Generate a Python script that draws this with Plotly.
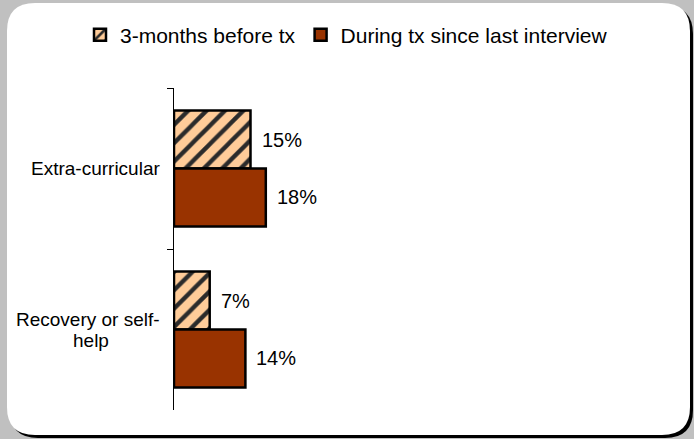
import plotly.graph_objects as go

# --- data -------------------------------------------------------------
categories = ["Extra-curricular", "Recovery or self-help"]
category_lines = [["Extra-curricular"], ["Recovery or self-", "help"]]
before_tx = [15, 7]
during_tx = [18, 14]
series_names = ["3-months before tx", "During tx since last interview"]

# --- figure geometry (pixels) ----------------------------------------
W, H = 694, 439
L, R, T, B = 174, 10, 88, 29
PW, PH = W - L - R, H - T - B
FONT = "Liberation Sans, Arial, sans-serif"


def px_x(px):
    return (px - L) / PW


def px_y(py):
    return 1 - (py - T) / PH


def rounded_rect(x0, y0, x1, y1, r):
    """SVG path (paper coords) of a rounded rectangle given in pixels."""
    pts = [
        ("M", [(x0 + r, y0)]),
        ("L", [(x1 - r, y0)]),
        ("Q", [(x1, y0), (x1, y0 + r)]),
        ("L", [(x1, y1 - r)]),
        ("Q", [(x1, y1), (x1 - r, y1)]),
        ("L", [(x0 + r, y1)]),
        ("Q", [(x0, y1), (x0, y1 - r)]),
        ("L", [(x0, y0 + r)]),
        ("Q", [(x0, y0), (x0 + r, y0)]),
    ]
    out = []
    for cmd, coords in pts:
        out.append(cmd + " ".join(f"{px_x(a):.5f},{px_y(b):.5f}" for a, b in coords))
    return " ".join(out) + " Z"


fig = go.Figure()

fig.add_trace(go.Bar(
    name=series_names[0],
    y=categories,
    x=before_tx,
    orientation="h",
    marker=dict(
        color="#FFCC99",
        line=dict(color="black", width=2.5),
        pattern=dict(shape="/", bgcolor="#FFCC99", fgcolor="#2b2b2b",
                     fgopacity=1, size=13, solidity=0.33, fillmode="replace"),
    ),
    hoverinfo="skip",
))
fig.add_trace(go.Bar(
    name=series_names[1],
    y=categories,
    x=during_tx,
    orientation="h",
    marker=dict(color="#993300", line=dict(color="black", width=2.5)),
    hoverinfo="skip",
))

annotations = []
# value labels next to each bar
bar_half = PH / len(categories) * 0.72 / 4
for series, shift in ((before_tx, bar_half), (during_tx, -bar_half)):
    for cat, v in zip(categories, series):
        annotations.append(dict(
            x=v, y=cat, xref="x", yref="y", text=f"{v}%",
            showarrow=False, xanchor="left", yanchor="middle",
            xshift=9, yshift=shift,
            font=dict(family=FONT, size=20, color="black"),
        ))

# category labels, multi-line ones centred on each other
for cat, lines in zip(categories, category_lines):
    n = len(lines)
    for i, line in enumerate(lines):
        yshift = (n - 1) * 10.5 - i * 21
        if i == 0:
            annotations.append(dict(
                x=0, y=cat, xref="x", yref="y", text=line, showarrow=False,
                xanchor="right", yanchor="middle", xshift=-12, yshift=yshift,
                font=dict(family=FONT, size=19, color="black"),
            ))
        else:
            annotations.append(dict(
                x=0, y=cat, xref="x", yref="y", text=line, showarrow=False,
                xanchor="center", yanchor="middle", xshift=-83, yshift=yshift,
                font=dict(family=FONT, size=19, color="black"),
            ))

shapes = [
    # drop shadow of the panel
    dict(type="path", xref="paper", yref="paper", layer="below",
         path=rounded_rect(10, 6, 693, 438, 28),
         fillcolor="black", line=dict(width=0)),
    # white panel
    dict(type="path", xref="paper", yref="paper", layer="below",
         path=rounded_rect(7, 3, 690, 435, 28),
         fillcolor="white", line=dict(width=0)),
]

fig.update_layout(
    width=W, height=H,
    margin=dict(l=L, r=R, t=T, b=B, pad=0),
    paper_bgcolor="#c0c0c0",
    plot_bgcolor="rgba(0,0,0,0)",
    barmode="group",
    bargap=0.28,
    bargroupgap=0,
    font=dict(family=FONT, color="black"),
    showlegend=True,
    legend=dict(
        orientation="h", xref="paper", yref="paper",
        x=px_x(80), y=px_y(35), xanchor="left", yanchor="middle",
        font=dict(family=FONT, size=21, color="black"),
        bgcolor="rgba(0,0,0,0)", traceorder="normal",
        itemwidth=30,
    ),
    xaxis=dict(range=[0, 100], visible=False, showgrid=False, zeroline=False,
               fixedrange=True),
    yaxis=dict(
        autorange="reversed", showline=True, linecolor="black", linewidth=1,
        ticks="outside", tickson="boundaries", ticklen=6, tickcolor="black",
        showticklabels=False, showgrid=False, zeroline=False, fixedrange=True,
    ),
    annotations=annotations,
    shapes=shapes,
)

fig.write_html("out.html")
